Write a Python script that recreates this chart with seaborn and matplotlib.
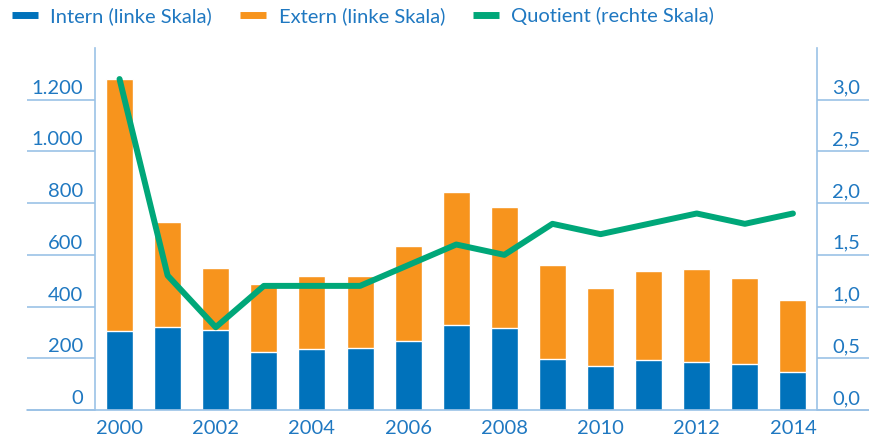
import matplotlib
matplotlib.use("Agg")
import matplotlib.pyplot as plt
import matplotlib.transforms as mtransforms
from matplotlib.lines import Line2D
import seaborn as sns
import pandas as pd

# Data
years = list(range(2000, 2015))
intern = [306, 321, 310, 224, 236, 240, 267, 329, 317, 197, 170, 193, 186, 178, 147]
total = [1281, 727, 550, 488, 519, 519, 635, 844, 786, 561, 472, 538, 546, 511, 426]
quotient = [3.2, 1.3, 0.8, 1.2, 1.2, 1.2, 1.4, 1.6, 1.5, 1.8, 1.7, 1.8, 1.9, 1.8, 1.9]
left_ticks = [0, 200, 400, 600, 800, 1000, 1200]
left_labels = ["0", "200", "400", "600", "800", "1.000", "1.200"]
right_ticks = [0, 0.5, 1.0, 1.5, 2.0, 2.5, 3.0]
right_labels = ["0,0", "0,5", "1,0", "1,5", "2,0", "2,5", "3,0"]

df = pd.DataFrame({"Jahr": [str(y) for y in years], "Intern": intern,
                   "Gesamt": total, "Quotient": quotient})
df["pos"] = range(len(df))

BLUE = "#0072bb"
ORANGE = "#f7941d"
GREEN = "#00a779"
TEXT = "#1f78c1"
AXIS = "#9bc2e6"
PX = 72 / 100  # pixels -> points

sns.set_style("white")
plt.rcParams['font.family'] = ['Lato', 'DejaVu Sans']

fig = plt.figure(figsize=(8.7, 4.4), dpi=100)
W, H = 870, 440
ax = fig.add_axes([95 / W, (H - 410) / H, (817 - 95) / W, (410 - 48) / H])

sns.barplot(data=df, x="Jahr", y="Gesamt", color=ORANGE, width=0.56,
            saturation=1, ax=ax)
sns.barplot(data=df, x="Jahr", y="Intern", color=BLUE, width=0.56,
            saturation=1, ax=ax)
ax.set_xlim(-0.51, 14.5)
ax.set_ylim(0, 1400)

ax2 = ax.twinx()
sns.lineplot(data=df, x="pos", y="Quotient", color=GREEN, lw=4.3, ax=ax2)
ax2.set_ylim(0, 3.5)
ax2.set_xlim(-0.51, 14.5)
ax2.set_ylabel("")
ax.set_xlabel("")
ax.set_ylabel("")

for a in (ax, ax2):
    for s in a.spines.values():
        s.set_visible(False)

ax.spines["left"].set_visible(True)
ax.spines["left"].set_color(AXIS)
ax.spines["left"].set_linewidth(1.2)
ax2.spines["right"].set_visible(True)
ax2.spines["right"].set_color(AXIS)
ax2.spines["right"].set_linewidth(1.2)

# x axis
ax.set_xticks(range(0, 15, 2))
ax.set_xticklabels([str(y) for y in years[::2]], fontsize=14.5, color=TEXT)
ax.tick_params(axis="x", bottom=True, length=0, pad=10 * PX)
ax.set_xlabel("")

# left axis: long ticks with labels sitting above them
up = mtransforms.ScaledTranslation(0, 13 / 100, fig.dpi_scale_trans)
ax.set_yticks(left_ticks)
ax.set_yticklabels(left_labels, fontsize=14.5, color=TEXT)
ax.tick_params(axis="y", left=True, direction="out", length=68 * PX, width=1.2,
               color=AXIS, pad=-56 * PX)
for lab in ax.get_yticklabels():
    lab.set_transform(lab.get_transform() + up)

ax2.set_yticks(right_ticks)
ax2.set_yticklabels(right_labels, fontsize=14.5, color=TEXT)
ax2.tick_params(axis="y", right=True, direction="out", length=53 * PX, width=1.2,
                color=AXIS, pad=-38 * PX)
for lab in ax2.get_yticklabels():
    lab.set_transform(lab.get_transform() + up)

# baseline spanning beyond the plot area
fig.add_artist(Line2D([27 / W, 1.0], [(H - 410) / H] * 2, color=AXIS,
                      lw=1.2, transform=fig.transFigure))

handles = [Line2D([], [], color=BLUE, lw=5, solid_capstyle="butt"),
           Line2D([], [], color=ORANGE, lw=5, solid_capstyle="butt"),
           Line2D([], [], color=GREEN, lw=5, solid_capstyle="butt")]
labels = ["Intern (linke Skala)", "Extern (linke Skala)", "Quotient (rechte Skala)"]
leg = fig.legend(handles, labels, loc="upper left", bbox_to_anchor=(0.0, 1.012),
                 ncol=3, frameon=False, fontsize=14.5, handlelength=1.3,
                 handletextpad=0.6, columnspacing=1.4, borderaxespad=0.2)
for t in leg.get_texts():
    t.set_color(TEXT)

fig.savefig("out.png", dpi=100)
